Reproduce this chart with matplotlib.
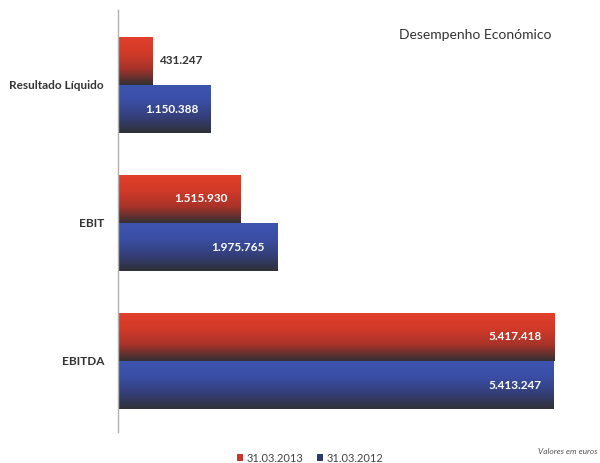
import numpy as np
import matplotlib
matplotlib.use("Agg")
import matplotlib.pyplot as plt
from matplotlib.colors import LinearSegmentedColormap
from matplotlib.patches import Patch

categories = ["Resultado Líquido", "EBIT", "EBITDA"]
series_names = ["31.03.2013", "31.03.2012"]
values_2013 = [431247, 1515930, 5417418]
values_2012 = [1150388, 1975765, 5413247]
labels_2013 = ["431.247", "1.515.930", "5.417.418"]
labels_2012 = ["1.150.388", "1.975.765", "5.413.247"]

plt.rcParams['font.family'] = ['Lato', 'DejaVu Sans']

fig = plt.figure(figsize=(6.0, 4.63), dpi=100)
W, H = 600, 463
ax = fig.add_axes([118 / W, 1 - 432 / H, 463 / W, 422 / H])

y = np.arange(len(categories))
h = 0.35
red_cmap = LinearSegmentedColormap.from_list("r", ["#e2402c", "#d23a28", "#a8332a", "#343034"])
blue_cmap = LinearSegmentedColormap.from_list("b", ["#3e55b0", "#3a4ea5", "#343f7a", "#2f3138"])

b1 = ax.barh(y - h / 2, values_2013, height=h, color="#d23a28", edgecolor="none")
b2 = ax.barh(y + h / 2, values_2012, height=h, color="#3a4ea5", edgecolor="none")

grad = np.linspace(0, 1, 100).reshape(-1, 1)
for bars, cmap in ((b1, red_cmap), (b2, blue_cmap)):
    for bar in bars:
        x0, y0 = bar.get_x(), bar.get_y()
        bw, bh = bar.get_width(), bar.get_height()
        im = ax.imshow(grad, cmap=cmap, aspect="auto",
                       extent=(x0, x0 + bw, y0 + bh, y0), origin="upper",
                       interpolation="bicubic", zorder=2)
        im.set_clip_path(bar)

ax.set_xlim(0, 5.75e6)
ax.set_ylim(2.515, -0.543)

for i, (v, lab) in enumerate(zip(values_2013, labels_2013)):
    if v < 800000:
        ax.text(v + 0.08e6, i - h / 2, lab, ha="left", va="center",
                fontsize=8.5, fontweight="bold", color="#333333", zorder=3)
    else:
        ax.text(v - 0.15e6, i - h / 2, lab, ha="right", va="center",
                fontsize=8.5, fontweight="bold", color="white", zorder=3)
for i, (v, lab) in enumerate(zip(values_2012, labels_2012)):
    ax.text(v - 0.15e6, i + h / 2, lab, ha="right", va="center",
            fontsize=8.5, fontweight="bold", color="white", zorder=3)

ax.set_yticks(y)
ax.set_yticklabels(categories, fontsize=8.5, fontweight="bold", color="#333333")
ax.tick_params(axis="y", length=0, pad=10)
ax.set_xticks([])
for s in ["top", "right", "bottom"]:
    ax.spines[s].set_visible(False)
ax.spines["left"].set_color("#b0b0b0")
ax.spines["left"].set_linewidth(1.0)

fig.text(475 / W, 1 - 35 / H, "Desempenho Económico", ha="center", va="center",
         fontsize=10, color="#333333")
fig.text(598 / W, 1 - 451 / H, "Valores em euros", ha="right", va="center",
         fontsize=6, style="italic", color="#555555")

handles = [Patch(facecolor="#c8372a", edgecolor="none"),
           Patch(facecolor="#2e3a6e", edgecolor="none")]
fig.legend(handles, series_names, loc="center", bbox_to_anchor=(310 / W, 1 - 458 / H),
           ncol=2, frameon=False, fontsize=8, handlelength=0.6, handleheight=0.6,
           handletextpad=0.3, columnspacing=1.2, labelcolor="#444444")

fig.savefig("out.png", dpi=100)
